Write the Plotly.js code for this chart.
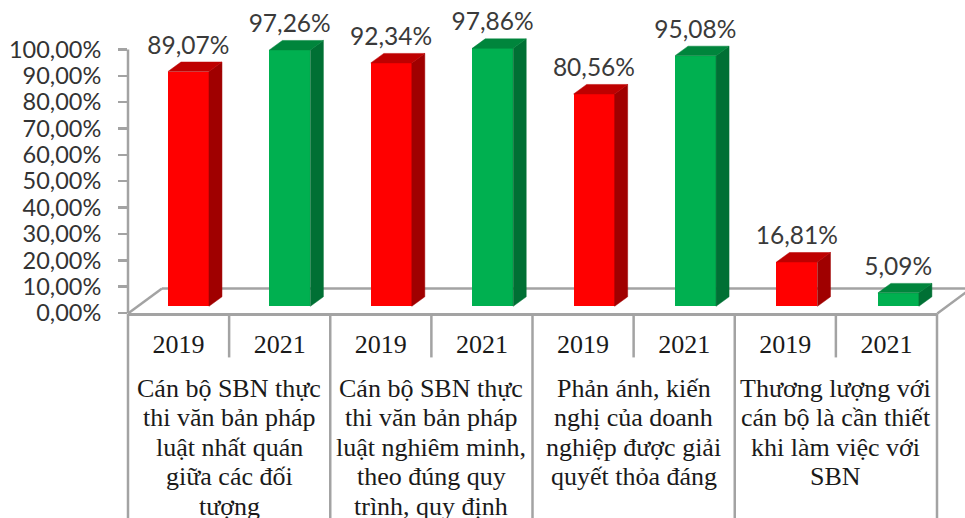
<!DOCTYPE html>
<html><head><meta charset="utf-8">
<script src="https://cdn.plot.ly/plotly-3.0.1.min.js"></script>
<style>html,body{margin:0;padding:0;background:#fff;overflow:hidden}#c{width:965px;height:518px}</style>
</head><body><div id="c"></div>
<script>
const years = ["2019","2021","2019","2021","2019","2021","2019","2021"];
const values = [89.07,97.26,92.34,97.86,80.56,95.08,16.81,5.09];
const valueLabels = ["89,07%","97,26%","92,34%","97,86%","80,56%","95,08%","16,81%","5,09%"];
const yTicks = [0,10,20,30,40,50,60,70,80,90,100];
const yTickLabels = ["0,00%","10,00%","20,00%","30,00%","40,00%","50,00%","60,00%","70,00%","80,00%","90,00%","100,00%"];
const groupLines = [
  ["Cán bộ SBN thực","thi văn bản pháp","luật nhất quán","giữa các đối","tượng"],
  ["Cán bộ SBN thực","thi văn bản pháp","luật nghiêm minh,","theo đúng quy","trình, quy định"],
  ["Phản ánh, kiến","nghị của doanh","nghiệp được giải","quyết thỏa đáng"],
  ["Thương lượng với","cán bộ là cần thiết","khi làm việc với","SBN"]
];
const RED="#FF0000",RED_TOP="#BE0000",RED_SIDE="#A00000";
const GREEN="#00B050",GREEN_TOP="#00853C",GREEN_SIDE="#007034";
const GRID="#A3A3A3";

const W=965,H=518,L=128,R=28,T=0,B=204.5;
const plotW=W-L-R, plotH=H-T-B, unit=plotW/8, yUnit=2.64;
const yMax=plotH/yUnit;
const paperX=p=>(p-L)/plotW, paperY=p=>(H-B-p)/plotH;

const base=2.55, barW=41/unit, dx=13/unit, dy=9.5/yUnit;
const barX=values.map((v,i)=>i+0.098+i*0.0029);

function faces(idx,kind){
  const xs=[],ys=[];
  idx.forEach(i=>{
    const l=barX[i]-barW/2,r=barX[i]+barW/2,t=base+values[i];
    if(kind==="side"){xs.push(r,r+dx,r+dx,r,r,null);ys.push(base,base+dy,t+dy,t,base,null);}
    else{xs.push(l,l+dx,r+dx,r,l,null);ys.push(t,t+dy,t+dy,t,t,null);}
  });
  return {x:xs,y:ys};
}
const idxRed=[0,2,4,6],idxGreen=[1,3,5,7];
const poly=(idx,kind,color)=>Object.assign(faces(idx,kind),{type:"scatter",mode:"lines",fill:"toself",fillcolor:color,
  line:{width:0.5,color:color},cliponaxis:false,hoverinfo:"skip",showlegend:false});

const traces=[
  {type:"bar",x:barX,y:values,base:base,width:barW,cliponaxis:false,showlegend:false,
   marker:{color:values.map((v,i)=>i%2?GREEN:RED),line:{width:0}},hoverinfo:"y"},
  poly(idxRed,"side",RED_SIDE),poly(idxRed,"top",RED_TOP),
  poly(idxGreen,"side",GREEN_SIDE),poly(idxGreen,"top",GREEN_TOP),
  {type:"scatter",mode:"text",x:barX.map(x=>x-0.002),y:values.map(v=>v+base+dy+0.85),text:valueLabels,
   textposition:"top center",cliponaxis:false,showlegend:false,hoverinfo:"skip",
   textfont:{family:"Lato, sans-serif",size:24.5,color:"#3A3A3A"}}
];

const lineStyle={color:GRID,width:2.5};
const shapes=[
  {type:"line",layer:"below",xref:"paper",yref:"paper",x0:paperX(L),y0:paperY(314),x1:paperX(162),y1:paperY(289),line:lineStyle},
  {type:"line",layer:"below",xref:"paper",yref:"paper",x0:paperX(162),y0:paperY(289),x1:paperX(965),y1:paperY(289),line:lineStyle},
  {type:"line",layer:"below",xref:"paper",yref:"paper",x0:paperX(937.3),y0:paperY(314),x1:paperX(971),y1:paperY(289),line:lineStyle},
  {type:"line",layer:"above",xref:"paper",yref:"y",x0:0,x1:0,y0:0,y1:100,line:lineStyle}
];
for(let i=0;i<=8;i++){
  const long=i%2===0;
  shapes.push({type:"line",layer:"above",xref:"paper",yref:"paper",x0:i/8,x1:i/8,y0:paperY(314),y1:paperY(long?520:358),line:lineStyle});
}
const annotations=[];
groupLines.forEach((lines,g)=>lines.forEach((txt,k)=>annotations.push({
  xref:"x",yref:"paper",x:2*g+0.5,y:paperY(389+k*29.5),text:txt,showarrow:false,xanchor:"center",yanchor:"middle",
  font:{family:"Liberation Serif, serif",size:26,color:"#1A1A1A"}})));

const layout={
  width:W,height:H,margin:{l:L,r:R,t:T,b:B,pad:0},paper_bgcolor:"#fff",plot_bgcolor:"rgba(0,0,0,0)",
  showlegend:false,bargap:0,shapes:shapes,annotations:annotations,
  xaxis:{range:[-0.5,7.5],tickmode:"array",tickvals:years.map((y,i)=>i),ticktext:years,ticks:"",showgrid:false,zeroline:false,
    showline:true,linecolor:GRID,linewidth:2.5,ticklabelstandoff:6,tickangle:0,
    tickfont:{family:"Liberation Serif, serif",size:26,color:"#1A1A1A"}},
  yaxis:{range:[0,yMax],tickmode:"array",tickvals:yTicks,ticktext:yTickLabels,ticks:"outside",ticklen:9,tickwidth:2.5,tickcolor:GRID,
    showgrid:false,zeroline:false,showline:false,ticklabelstandoff:12,
    tickfont:{family:"Lato, sans-serif",size:23.5,color:"#333333"}}
};
Plotly.newPlot("c",traces,layout,{displayModeBar:false,staticPlot:true});
</script></body></html>
